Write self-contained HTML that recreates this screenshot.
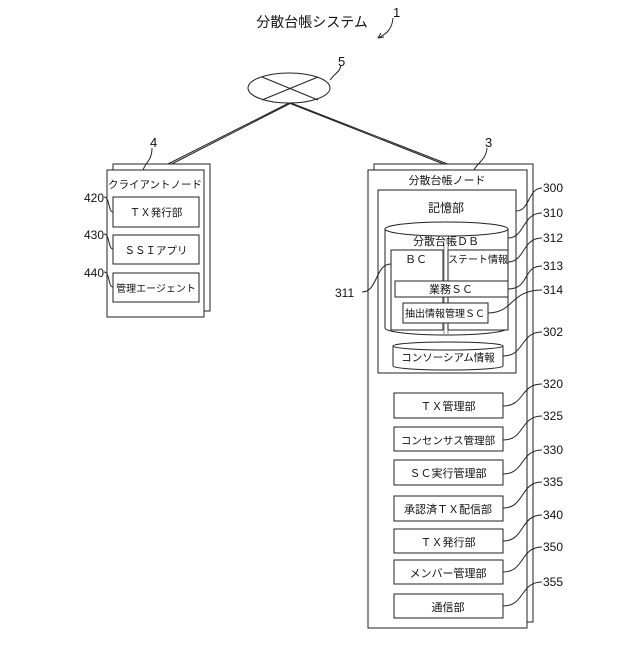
<!DOCTYPE html>
<html><head><meta charset="utf-8"><style>
html,body{margin:0;padding:0;background:#fff}
svg text{font-family:"Liberation Sans","Noto Sans CJK JP",sans-serif;fill:#111}
</style></head><body>
<svg width="640" height="640" viewBox="0 0 640 640" xmlns="http://www.w3.org/2000/svg">
<g fill="none" stroke="#222" stroke-width="1">
<path d="M393 18 C392 30 386 34 378 38"/>
<path d="M378 38 l6 -1 M378 38 l3 -5"/>
<ellipse cx="289" cy="88" rx="41" ry="15" fill="#fff"/>
<line x1="262" y1="77" x2="318" y2="100"/>
<line x1="262" y1="100" x2="318" y2="77"/>
<path d="M330 80 C336 72 340 72 341 65"/>
<line x1="289" y1="103" x2="156" y2="170"/>
<line x1="291" y1="103" x2="160" y2="170"/>
<line x1="289" y1="103" x2="446" y2="165"/>
<line x1="291" y1="103" x2="450" y2="165"/>
<rect x="113" y="164" width="97" height="147" fill="#fff"/>
<rect x="107" y="170" width="97" height="147" fill="#fff"/>
<path d="M143 170 C146 162 152 160 152 148"/>
<rect x="113" y="197" width="86" height="30"/>
<rect x="113" y="235" width="86" height="29"/>
<rect x="113" y="273" width="86" height="29"/>
<path d="M104 197 C110 197 108 212 113 212"/>
<path d="M104 234 C110 234 108 249 113 249"/>
<path d="M104 272 C110 272 108 287 113 287"/>
<rect x="374" y="164" width="159" height="458" fill="#fff"/>
<rect x="368" y="170" width="159" height="458" fill="#fff"/>
<path d="M474 170 C478 162 486 160 487 148"/>
<rect x="378" y="190" width="138" height="183"/>
<path d="M385 229 L385 328 A61.5 7 0 0 0 508 328 L508 229"/>
<ellipse cx="446.5" cy="229" rx="61.5" ry="7"/>
<line x1="444" y1="243" x2="444" y2="335" stroke="#888"/>
<line x1="448" y1="243" x2="448" y2="335" stroke="#888"/>
<rect x="391" y="250" width="52" height="80" fill="#fff"/>
<rect x="448" y="250" width="60" height="80" fill="#fff"/>
<rect x="395" y="281" width="113" height="16" fill="#fff"/>
<rect x="403" y="303" width="85" height="20" fill="#fff"/>
<path d="M393 346 L393 366 A55 4 0 0 0 503 366 L503 346"/>
<ellipse cx="448" cy="346" rx="55" ry="4"/>
<rect x="394" y="393" width="109" height="25"/>
<rect x="394" y="427" width="109" height="24"/>
<rect x="394" y="460" width="109" height="25"/>
<rect x="394" y="496" width="109" height="25"/>
<rect x="394" y="529" width="109" height="24"/>
<rect x="394" y="560" width="109" height="24"/>
<rect x="394" y="594" width="109" height="24"/>
<path d="M516 211 C530 211 528 188 542 188"/>
<path d="M508 238 C525 238 522 213 542 213"/>
<path d="M508 262 C525 262 522 238 542 238"/>
<path d="M508 289 C530 289 522 266 542 266"/>
<path d="M488 313 C514 313 510 290 542 290"/>
<path d="M503 356 C525 356 520 332 542 332"/>
<path d="M391 264 C375 264 378 292 362 292"/>
<path d="M503 406 C525 406 520 384 542 384"/>
<path d="M503 440 C525 440 520 416 542 416"/>
<path d="M503 474 C525 474 520 450 542 450"/>
<path d="M503 508 C525 508 520 482 542 482"/>
<path d="M503 541 C525 541 520 515 542 515"/>
<path d="M503 572 C525 572 520 547 542 547"/>
<path d="M503 606 C525 606 520 582 542 582"/>
</g>
<g font-size="12">
<text x="312" y="27" text-anchor="middle" font-size="14">分散台帳システム</text>
<text x="393" y="17" font-size="13">1</text>
<text x="338" y="66" font-size="13">5</text>
<text x="150" y="147" font-size="13">4</text>
<text x="485" y="147" font-size="13">3</text>
<text x="84" y="202">420</text>
<text x="84" y="239">430</text>
<text x="84" y="277">440</text>
<text x="155" y="188" text-anchor="middle" font-size="10.5">クライアントノード</text>
<text x="156" y="216" text-anchor="middle" font-size="10.5">ＴＸ発行部</text>
<text x="156" y="254" text-anchor="middle" font-size="10.5">ＳＳＩアプリ</text>
<text x="156" y="292" text-anchor="middle" font-size="10">管理エージェント</text>
<text x="447" y="184" text-anchor="middle" font-size="11">分散台帳ノード</text>
<text x="446" y="212" text-anchor="middle" font-size="12">記憶部</text>
<text x="446" y="245" text-anchor="middle" font-size="11">分散台帳ＤＢ</text>
<text x="416" y="263" text-anchor="middle" font-size="11">ＢＣ</text>
<text x="478" y="263" text-anchor="middle" font-size="10">ステート情報</text>
<text x="451" y="293" text-anchor="middle" font-size="11">業務ＳＣ</text>
<text x="445" y="317" text-anchor="middle" font-size="10">抽出情報管理ＳＣ</text>
<text x="448" y="361" text-anchor="middle" font-size="10.5">コンソーシアム情報</text>
<text x="448" y="410" text-anchor="middle" font-size="11">ＴＸ管理部</text>
<text x="448" y="444" text-anchor="middle" font-size="10.5">コンセンサス管理部</text>
<text x="448" y="477" text-anchor="middle" font-size="11">ＳＣ実行管理部</text>
<text x="448" y="513" text-anchor="middle" font-size="11">承認済ＴＸ配信部</text>
<text x="448" y="546" text-anchor="middle" font-size="11">ＴＸ発行部</text>
<text x="448" y="577" text-anchor="middle" font-size="11">メンバー管理部</text>
<text x="448" y="611" text-anchor="middle" font-size="11">通信部</text>
<text x="543" y="192">300</text>
<text x="543" y="217">310</text>
<text x="543" y="242">312</text>
<text x="543" y="270">313</text>
<text x="543" y="294">314</text>
<text x="543" y="336">302</text>
<text x="335" y="297">311</text>
<text x="543" y="388">320</text>
<text x="543" y="420">325</text>
<text x="543" y="454">330</text>
<text x="543" y="486">335</text>
<text x="543" y="519">340</text>
<text x="543" y="551">350</text>
<text x="543" y="586">355</text>
</g>
</svg>
</body></html>
